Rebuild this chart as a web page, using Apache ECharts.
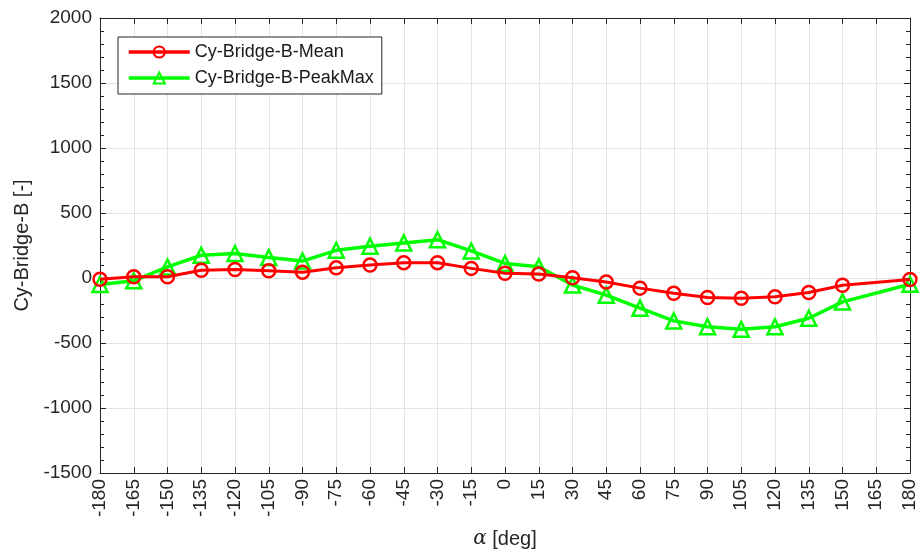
<!DOCTYPE html>
<html>
<head>
<meta charset="utf-8">
<script src="https://cdn.jsdelivr.net/npm/echarts@6/dist/echarts.min.js"></script>
<style>html,body{margin:0;padding:0;background:#fff}#c{width:923px;height:557px}</style>
</head>
<body>
<div id="c"></div>
<script>
const angles = [-180,-165,-150,-135,-120,-105,-90,-75,-60,-45,-30,-15,0,15,30,45,60,75,90,105,120,135,150,180];
const meanValues = [-10,10,10,60,65,55,45,78,100,118,118,74,36,30,2,-30,-78,-118,-150,-156,-145,-112,-56,-12];
const peakMaxValues = [-50,-22,85,175,188,158,130,213,245,270,295,208,112,86,-54,-132,-232,-330,-375,-395,-375,-310,-184,-48];
const xTicks = {min:-180, max:180, step:15};
const yTicks = {min:-1500, max:2000, step:500};
const seriesNames = ['Cy-Bridge-B-Mean','Cy-Bridge-B-PeakMax'];

const font = 'Liberation Sans, Arial, sans-serif';
const chart = echarts.init(document.getElementById('c'), null, {renderer:'canvas'});
const pairs = vals => angles.map((a,i)=>[a, vals[i]]);
const gridLine = {show:true, lineStyle:{color:'#e3e3e3', width:1}};
const axLine = {show:true, onZero:false, lineStyle:{color:'#262626', width:1}};
const tick = {show:true, inside:true, length:6, lineStyle:{color:'#262626'}};
const plain = v => String(v);
chart.setOption({
  animation:false,
  backgroundColor:'#fff',
  grid:{left:100, right:13, top:18, bottom:84, containLabel:false},
  legend:{
    orient:'vertical', left:118, top:37,
    backgroundColor:'#fff', borderColor:'#262626', borderWidth:1,
    padding:[6,8,7,9], itemGap:8, itemWidth:61, itemHeight:14,
    textStyle:{fontFamily:font, fontSize:18, color:'#1a1a1a'},
    lineStyle:{width:3.5},
    data:seriesNames
  },
  xAxis:[{
    type:'value', min:xTicks.min, max:xTicks.max, interval:xTicks.step,
    axisLine:axLine, axisTick:tick,
    splitLine:gridLine,
    axisLabel:{rotate:90, fontFamily:font, fontSize:19, color:'#262626', margin:6, formatter:plain},
    name:'{a|α} [deg]', nameLocation:'middle', nameGap:56,
    nameTextStyle:{fontFamily:font, fontSize:20, color:'#262626',
      rich:{a:{fontFamily:'DejaVu Serif, serif', fontStyle:'italic', fontSize:20, color:'#262626'}}}
  },{
    type:'value', position:'top', min:xTicks.min, max:xTicks.max, interval:xTicks.step,
    axisLine:axLine, axisTick:tick,
    axisLabel:{show:false}, splitLine:{show:false}
  }],
  yAxis:[{
    type:'value', min:yTicks.min, max:yTicks.max, interval:yTicks.step,
    axisLine:axLine, axisTick:tick,
    minorTick:{show:true, splitNumber:5, length:4, lineStyle:{color:'#262626'}},
    splitLine:gridLine,
    axisLabel:{fontFamily:font, fontSize:19, color:'#262626', margin:8, formatter:plain},
    name:'Cy-Bridge-B [-]', nameLocation:'middle', nameGap:68,
    nameTextStyle:{fontFamily:font, fontSize:20, color:'#262626'}
  },{
    type:'value', position:'right', min:yTicks.min, max:yTicks.max, interval:yTicks.step,
    axisLine:axLine, axisTick:tick,
    minorTick:{show:true, splitNumber:5, length:4, lineStyle:{color:'#262626'}},
    axisLabel:{show:false}, splitLine:{show:false}
  }],
  series:[{
    name:seriesNames[0], type:'line', data:pairs(meanValues),
    symbol:'circle', symbolSize:13,
    lineStyle:{color:'#ff0000', width:3},
    itemStyle:{color:'rgba(0,0,0,0)', borderColor:'#ff0000', borderWidth:2.5},
    z:3
  },{
    name:seriesNames[1], type:'line', data:pairs(peakMaxValues),
    symbol:'triangle', symbolSize:15,
    lineStyle:{color:'#00ff00', width:3.5},
    itemStyle:{color:'rgba(0,0,0,0)', borderColor:'#00ff00', borderWidth:2.5},
    z:2
  }]
});
</script>
</body>
</html>
